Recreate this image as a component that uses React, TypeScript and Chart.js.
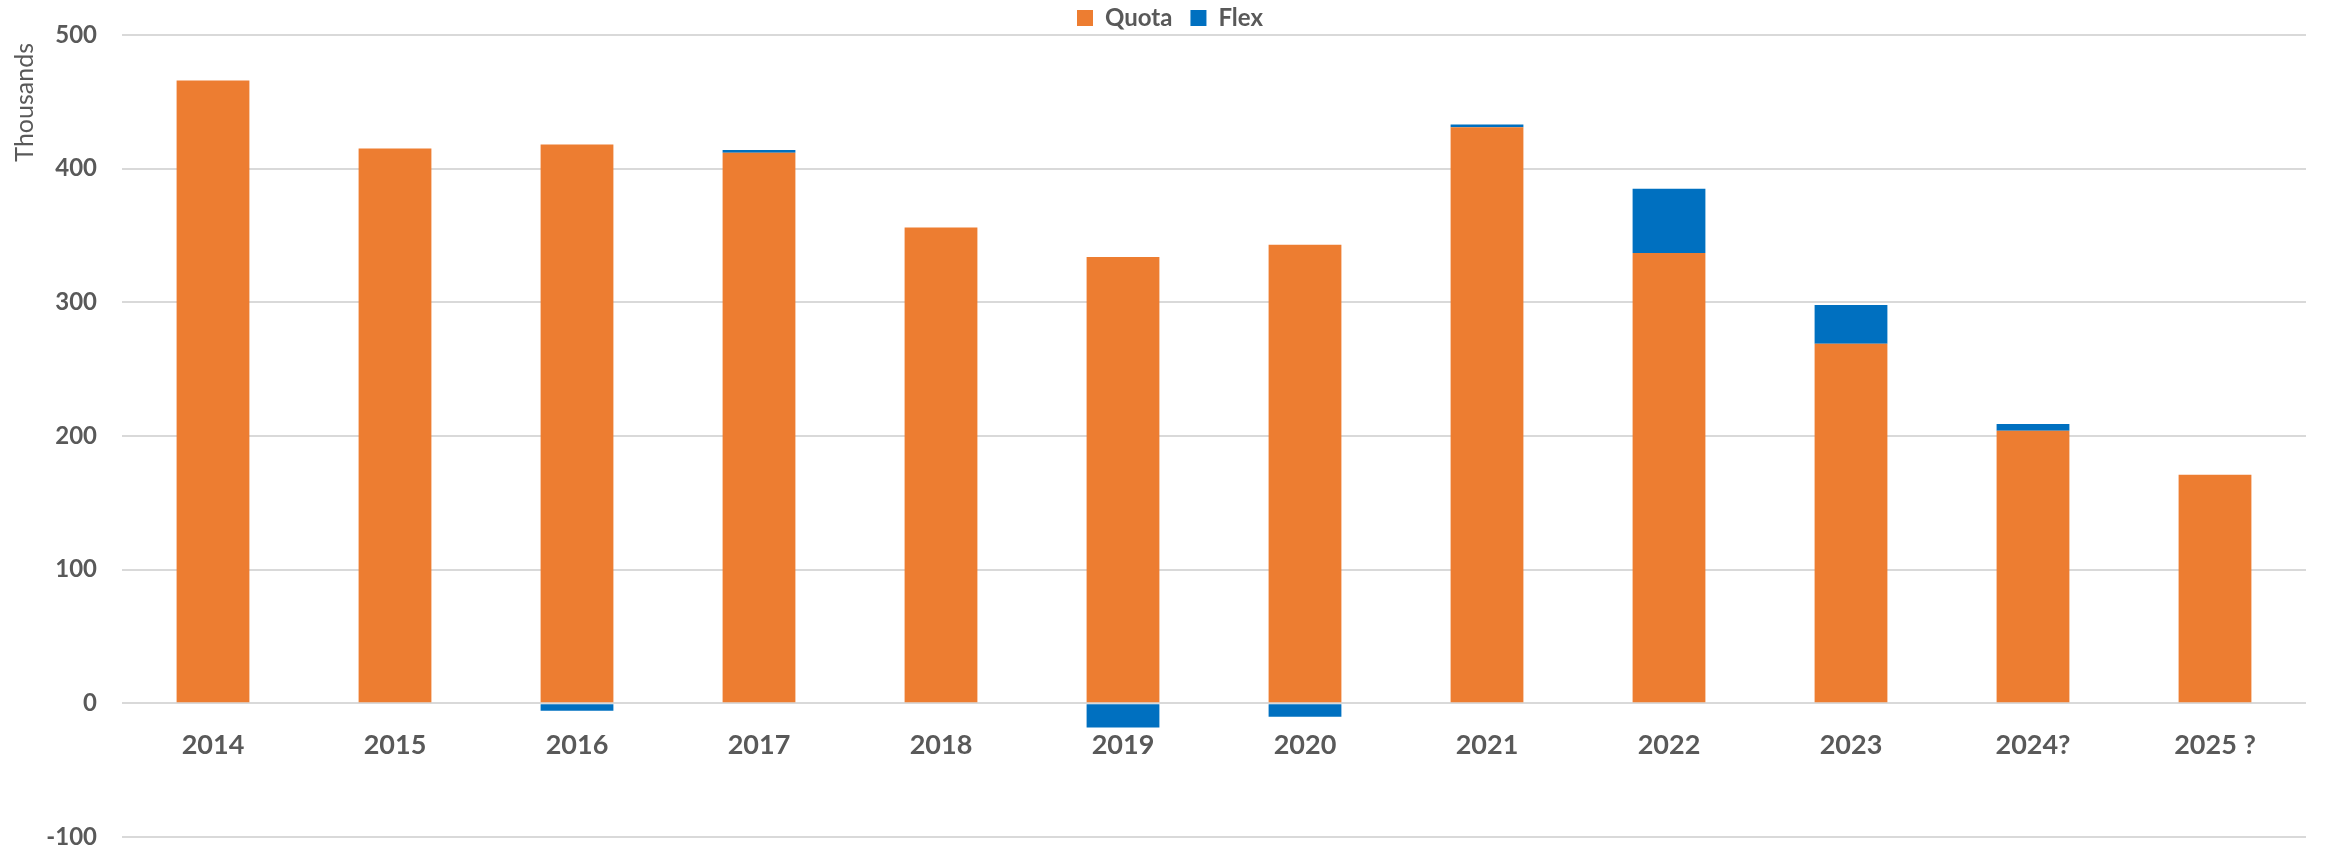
import React, { useEffect, useRef } from "react";
import { Chart, registerables } from "chart.js";

Chart.register(...registerables);

const categories = ["2014", "2015", "2016", "2017", "2018", "2019", "2020", "2021", "2022", "2023", "2024?", "2025 ?"];
const quotaValues = [466, 415, 418, 412, 356, 334, 343, 431, 337, 269, 204, 171];
const flexValues = [0, 0, -5.5, 2, 0, -18, -10, 2, 48, 29, 5, 0];
const yTicks = [-100, 0, 100, 200, 300, 400, 500];
const yTitle = "Thousands";

const TEXT = "#595959";
const FONT = "Lato, 'Open Sans', sans-serif";

const extraText = {
  id: "extraText",
  afterDraw(chart: any) {
    const x = chart.scales.x;
    const y = chart.scales.y;
    const ctx = chart.ctx;
    const y0 = y.getPixelForValue(0);
    ctx.save();
    ctx.fillStyle = TEXT;
    ctx.font = `bold 27px ${FONT}`;
    ctx.textAlign = "center";
    ctx.textBaseline = "middle";
    categories.forEach((c, i) => {
      ctx.fillText(c, x.getPixelForValue(i), y0 + 42);
    });
    // rotated axis title near the top of the value axis
    ctx.font = `25px ${FONT}`;
    ctx.translate(25, chart.chartArea.top + 8);
    ctx.rotate(-Math.PI / 2);
    ctx.textAlign = "right";
    ctx.textBaseline = "middle";
    ctx.fillText(yTitle, 0, 0);
    ctx.restore();
  },
};

export default function App() {
  const ref = useRef<HTMLCanvasElement | null>(null);
  useEffect(() => {
    if (!ref.current) return;
    const chart = new Chart(ref.current, {
      type: "bar",
      data: {
        labels: categories,
        datasets: [
          { label: "Quota", data: quotaValues, backgroundColor: "#ED7D31", borderWidth: 0 },
          { label: "Flex", data: flexValues, backgroundColor: "#0070C0", borderWidth: 0 },
        ],
      },
      options: {
        responsive: false,
        animation: false,
        devicePixelRatio: 1,
        layout: { padding: { left: 34, right: 30, top: -12, bottom: 0 } },
        datasets: { bar: { categoryPercentage: 1, barPercentage: 0.4 } },
        plugins: {
          legend: {
            position: "top",
            maxHeight: 47,
            labels: {
              boxWidth: 16,
              boxHeight: 16,
              padding: 18,
              color: TEXT,
              font: { family: FONT, size: 24, weight: "bold" },
            },
          },
          tooltip: { enabled: false },
        },
        scales: {
          x: {
            stacked: true,
            display: false,
          },
          y: {
            stacked: true,
            min: -100,
            max: 500,
            afterBuildTicks: (scale: any) => {
              scale.ticks = yTicks.map((v) => ({ value: v }));
            },
            afterFit: (scale: any) => {
              scale.width = 88;
              scale.paddingTop = 14;
              scale.paddingBottom = 12;
            },
            border: { display: false },
            grid: { color: "#d9d9d9", lineWidth: 2, drawTicks: false },
            ticks: {
              padding: 25,
              color: TEXT,
              font: { family: FONT, size: 24, weight: "bold" },
            },
          },
        },
      },
      plugins: [extraText],
    });
    return () => chart.destroy();
  }, []);
  return (
    <div style={{ position: "absolute", left: 0, top: 0, width: 2336, height: 849, background: "#fff" }}>
      <canvas ref={ref} width={2336} height={849} style={{ display: "block" }} />
    </div>
  );
}
